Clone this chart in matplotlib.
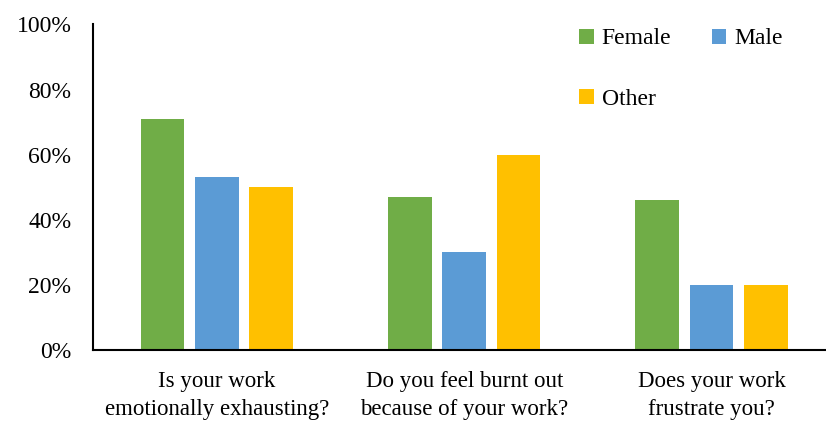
import matplotlib
matplotlib.use("Agg")
import matplotlib.pyplot as plt
import numpy as np
from matplotlib.ticker import PercentFormatter

categories = ["Is your work\nemotionally exhausting?",
              "Do you feel burnt out\nbecause of your work?",
              "Does your work\nfrustrate you?"]
female = [0.71, 0.47, 0.46]
male = [0.53, 0.30, 0.20]
other = [0.50, 0.60, 0.20]
series_names = ["Female", "Male", "Other"]
colors = ["#70AD47", "#5B9BD5", "#FFC000"]
yticks = [0, 0.2, 0.4, 0.6, 0.8, 1.0]

plt.rcParams["font.family"] = ["Liberation Serif", "DejaVu Serif"]

fig = plt.figure(figsize=(8.26, 4.23), dpi=100)
ax = fig.add_axes([93 / 826, 1 - 350 / 423, (826 - 93) / 826, (350 - 24.5) / 423])

x = np.arange(len(categories))
width = 0.176
offset = 0.22
handles = []
for i, (vals, name, c) in enumerate(zip([female, male, other], series_names, colors)):
    h = ax.bar(x + (i - 1) * offset, vals, width, color=c, label=name)
    handles.append(h)

ax.set_xlim(-0.5, 2.462)
ax.set_ylim(0, 1.0)
ax.set_yticks(yticks)
ax.yaxis.set_major_formatter(PercentFormatter(1.0, decimals=0))
ax.set_xticks(x)
ax.set_xticklabels(categories, fontsize=16.5, linespacing=1.45)
ax.tick_params(axis="y", labelsize=17, length=0, pad=15.5)
ax.tick_params(axis="x", length=0, pad=15)

for s in ["top", "right"]:
    ax.spines[s].set_visible(False)
for s in ["left", "bottom"]:
    ax.spines[s].set_linewidth(1.5)
    ax.spines[s].set_color("black")

leg = ax.legend([handles[0], handles[2], handles[1]], ["Female", "Other", "Male"],
                ncol=2, frameon=False, fontsize=17,
                loc="upper left", bbox_to_anchor=(0.6345, 1.053),
                handlelength=0.6, handleheight=0.6, handletextpad=0.35,
                labelspacing=1.67, columnspacing=1.7)

fig.savefig("out.png", dpi=100)
